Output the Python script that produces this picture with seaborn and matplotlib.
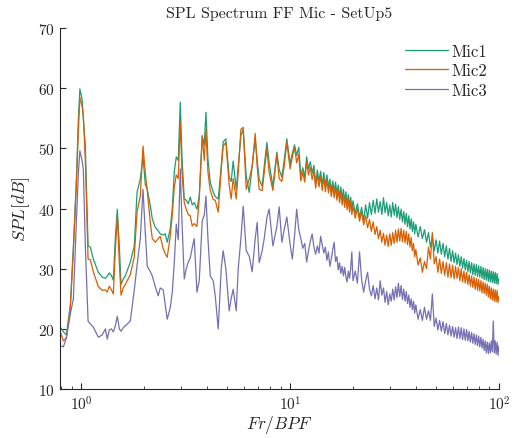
import numpy as np
import pandas as pd
import matplotlib
matplotlib.use("Agg")
import matplotlib.pyplot as plt
import seaborn as sns

# ---------------- data ----------------
mics = ["Mic1", "Mic2", "Mic3"]
colors = ["#1b9e77", "#d95f02", "#7570b3"]

freq_low = [0.793, 0.820, 0.848, 0.886, 0.916, 0.947, 0.968, 0.984, 1.008, 1.022,
            1.045, 1.077, 1.104, 1.141, 1.206, 1.260, 1.303, 1.331, 1.361, 1.392,
            1.423, 1.454, 1.487, 1.520, 1.549, 1.588, 1.624, 1.716, 1.793, 1.848,
            1.916, 1.974, 2.024, 2.069, 2.139, 2.187, 2.260, 2.335, 2.387, 2.467,
            2.522, 2.578, 2.665, 2.726, 2.787, 2.849, 2.912, 2.977, 3.033, 3.111,
            3.180, 3.251, 3.324, 3.397, 3.473, 3.578, 3.670, 3.794, 3.878, 3.952,
            4.040, 4.144, 4.283, 4.378, 4.525, 4.677, 4.779, 4.923, 5.106, 5.219,
            5.336, 5.518, 5.641, 5.811, 5.960, 6.161, 6.368, 6.581, 6.803, 6.954,
            7.108, 7.348, 7.513, 7.740, 7.938, 8.269, 8.640, 8.862, 9.130, 9.365,
            9.643]

mic1_low = [20.3, 19.5, 19.0, 24.0, 33.8, 45.0, 55.0, 59.9, 58.2, 55.0,
            50.4, 33.8, 33.6, 31.6, 29.4, 28.6, 28.4, 28.8, 29.3, 28.9,
            28.1, 35.0, 39.9, 33.8, 27.4, 28.3, 28.8, 31.1, 33.8, 42.7,
            44.9, 48.7, 44.0, 43.2, 40.5, 38.3, 36.9, 36.3, 35.8, 35.6,
            35.8, 34.4, 36.6, 40.0, 46.1, 48.6, 48.0, 57.7, 48.7, 41.6,
            41.4, 40.8, 41.9, 40.6, 41.0, 39.9, 42.1, 52.1, 50.5, 56.0,
            48.2, 44.4, 42.7, 42.0, 41.6, 47.0, 51.1, 51.6, 45.2, 44.5,
            47.9, 43.2, 47.0, 52.1, 53.2, 45.4, 42.7, 47.0, 51.6, 48.0,
            44.9, 43.7, 47.0, 51.0, 47.5, 43.7, 49.4, 46.5, 45.2, 48.0,
            51.6]
mic2_low = [19.5, 18.0, 18.5, 23.5, 33.0, 44.0, 53.0, 58.5, 57.0, 55.5,
            48.0, 31.6, 31.5, 29.5, 27.0, 26.4, 26.5, 26.1, 27.1, 26.5,
            25.8, 33.0, 38.8, 31.0, 25.6, 26.8, 27.4, 29.0, 32.0, 39.4,
            42.1, 50.4, 46.0, 43.0, 37.7, 35.0, 34.4, 35.0, 35.4, 33.3,
            32.5, 31.9, 35.4, 39.0, 43.5, 45.6, 45.0, 54.5, 46.0, 41.0,
            39.9, 39.0, 38.8, 37.1, 37.5, 37.0, 41.6, 52.1, 48.0, 53.2,
            46.0, 43.0, 41.5, 41.4, 39.4, 46.5, 50.4, 51.0, 44.0, 41.6,
            45.0, 41.6, 46.0, 53.2, 53.5, 43.2, 44.9, 47.0, 52.5, 47.0,
            43.2, 43.0, 46.0, 50.0, 46.0, 43.0, 49.0, 45.0, 44.5, 47.0,
            51.0]
mic3_low = [17.2, 17.0, 18.5, 22.5, 25.0, 38.0, 46.0, 49.6, 48.0, 46.5,
            33.8, 21.3, 20.8, 20.3, 18.6, 19.0, 20.0, 18.3, 19.8, 20.0,
            19.5, 20.5, 22.1, 20.0, 19.6, 20.2, 20.5, 21.3, 26.5, 30.5,
            35.0, 43.2, 36.0, 30.4, 29.5, 28.8, 27.0, 25.5, 26.8, 26.5,
            24.0, 21.6, 23.5, 26.1, 31.0, 37.4, 34.8, 46.6, 38.0, 28.3,
            30.0, 31.1, 31.8, 33.5, 35.0, 26.1, 28.0, 38.0, 38.9, 42.1,
            35.0, 28.8, 28.0, 25.5, 20.0, 30.0, 33.0, 30.0, 23.0, 25.0,
            26.6, 23.0, 30.0, 35.0, 40.4, 33.0, 32.1, 29.5, 35.0, 37.7,
            31.0, 33.0, 35.0, 38.5, 39.9, 33.8, 37.0, 40.3, 34.4, 36.5,
            38.6]

freq_high = [10.0, 10.25, 10.5, 10.75, 11.0, 11.25, 11.5, 11.75, 12.0, 12.25,
             12.5, 12.75, 13.0, 13.25, 13.5, 13.75, 14.0, 14.25, 14.5, 14.75,
             15.0, 15.25, 15.5, 15.75, 16.0, 16.25, 16.5, 16.75, 17.0, 17.25,
             17.5, 17.75, 18.0, 18.25, 18.5, 18.75, 19.0, 19.25, 19.5, 19.75,
             20.0, 20.5, 21.0, 21.5, 22.0, 22.5, 23.0, 23.5, 24.0, 24.5,
             25.0, 25.5, 26.0, 26.5, 27.0, 27.5, 28.0, 28.5, 29.0, 29.5,
             30.0, 30.5, 31.0, 31.5, 32.0, 32.5, 33.0, 33.5, 34.0, 34.5,
             35.0, 35.5, 36.0, 36.5, 37.0, 37.5, 38.0, 38.5, 39.0, 39.5,
             40, 41, 42, 43, 44, 45, 46, 47, 48, 49,
             50, 51, 52, 53, 54, 55, 56, 57, 58, 59,
             60, 61, 62, 63, 64, 65, 66, 67, 68, 69,
             70, 71, 72, 73, 74, 75, 76, 77, 78, 79,
             80, 81, 82, 83, 84, 85, 86, 87, 88, 89,
             90, 91, 92, 93, 94, 95, 96, 97, 98, 99,
             100]

mic1_high = [47.5, 49.2, 50.6, 48.8, 50.2, 45.4, 46.8, 45.2, 48.6, 46.6,
             47.8, 45.9, 47.2, 44.2, 46.4, 44.6, 46.2, 44.0, 46.0, 43.8,
             45.6, 43.6, 44.9, 42.9, 44.6, 42.8, 44.4, 42.4, 43.9, 41.8,
             43.6, 41.6, 43.2, 41.1, 42.8, 40.7, 42.3, 40.3, 41.9, 39.9,
             41.3, 39.2, 40.8, 38.6, 40.2, 38.0, 40.6, 38.4, 41.0, 39.0,
             41.4, 39.2, 41.6, 39.4, 41.2, 39.0, 41.8, 39.3, 41.0, 38.8,
             40.6, 38.6, 41.0, 38.9, 40.7, 38.5, 40.3, 38.2, 39.9, 37.8,
             39.5, 37.4, 39.2, 37.0, 38.8, 36.6, 38.3, 36.2, 37.8, 35.8,
             37.4, 35.3, 37.0, 35.0, 36.5, 34.4, 36.0, 33.6, 35.4, 33.0,
             34.8, 32.6, 34.6, 32.4, 34.2, 32.0, 33.8, 31.6, 33.4, 31.2,
             33.0, 31.0, 32.6, 30.7, 32.3, 30.4, 32.0, 30.1, 31.7, 29.8,
             31.4, 29.5, 31.2, 29.3, 31.0, 29.0, 30.8, 28.9, 30.7, 28.7,
             30.5, 28.6, 30.4, 28.4, 30.2, 28.2, 30.0, 28.1, 29.9, 27.9,
             29.8, 27.8, 29.6, 27.7, 29.5, 27.6, 29.4, 27.5, 29.2, 27.4,
             28.4]
mic2_high = [46.6, 48.6, 50.2, 47.6, 49.0, 44.6, 46.0, 44.4, 47.8, 45.6,
             46.9, 44.8, 46.4, 43.4, 45.5, 43.6, 45.4, 43.0, 45.2, 42.8,
             44.8, 42.6, 44.2, 42.0, 43.8, 41.8, 43.6, 41.4, 43.2, 41.0,
             42.8, 40.6, 42.4, 40.2, 42.0, 39.8, 41.6, 39.4, 41.2, 39.0,
             40.4, 38.4, 40.0, 37.9, 39.4, 37.3, 38.8, 36.8, 38.2, 36.2,
             37.8, 35.7, 37.0, 35.0, 36.4, 34.4, 35.9, 33.9, 35.6, 33.7,
             35.8, 33.9, 36.0, 34.2, 36.4, 34.4, 36.6, 34.6, 36.7, 34.5,
             36.4, 34.3, 36.2, 34.0, 35.8, 33.6, 35.2, 33.0, 34.2, 32.0,
             33.2, 30.6, 31.8, 29.4, 31.2, 30.0, 33.6, 31.6, 36.0, 30.8,
             32.0, 29.4, 31.6, 29.2, 31.2, 28.9, 31.0, 28.6, 30.8, 28.5,
             30.6, 28.3, 30.4, 28.4, 30.2, 28.0, 30.0, 27.8, 29.6, 27.6,
             29.4, 27.4, 29.0, 27.1, 28.8, 26.9, 28.6, 26.6, 28.4, 26.4,
             28.2, 26.3, 28.0, 26.0, 27.8, 25.9, 27.6, 25.6, 27.4, 25.3,
             27.1, 25.0, 26.8, 24.8, 26.6, 24.6, 26.5, 24.5, 26.4, 24.4,
             25.4]
mic3_high = [34.0, 31.6, 35.5, 39.9, 36.5, 35.0, 33.4, 34.2, 31.1, 33.0,
             34.6, 35.8, 33.6, 32.4, 33.8, 32.6, 35.4, 34.0, 32.6, 33.6,
             31.4, 32.8, 30.4, 31.6, 33.2, 34.4, 31.2, 32.0, 29.8, 31.0,
             29.2, 30.4, 28.8, 30.2, 28.6, 27.8, 29.6, 28.4, 30.0, 32.8,
             28.0, 29.6, 27.6, 32.8, 28.2, 26.1, 28.0, 29.4, 26.6, 25.5,
             27.2, 25.0, 26.8, 24.8, 28.0, 25.6, 26.8, 24.4, 26.2, 24.0,
             25.8, 24.6, 26.6, 24.8, 27.0, 25.2, 27.6, 25.4, 27.2, 24.9,
             26.6, 24.6, 26.2, 24.2, 25.6, 23.6, 25.0, 23.2, 24.6, 22.6,
             24.0, 21.6, 23.2, 21.4, 23.6, 21.6, 23.0, 21.4, 25.8, 20.4,
             21.8, 19.8, 21.4, 19.6, 21.2, 19.2, 20.9, 19.0, 20.6, 18.8,
             20.4, 18.6, 20.2, 18.4, 20.3, 18.4, 20.2, 18.2, 20.0, 18.1,
             19.9, 18.0, 19.6, 17.8, 19.4, 17.6, 19.2, 17.4, 19.0, 17.2,
             18.8, 17.0, 18.6, 16.8, 18.3, 16.4, 18.0, 16.0, 17.8, 15.9,
             17.7, 16.0, 18.0, 16.2, 21.3, 16.0, 18.0, 15.8, 17.8, 15.6,
             17.2]

# ---------------- build long-form table ----------------
freq = freq_low + freq_high
series = {"Mic1": mic1_low + mic1_high,
          "Mic2": mic2_low + mic2_high,
          "Mic3": mic3_low + mic3_high}
rows = []
for m in mics:
    for f, v in zip(freq, series[m]):
        rows.append((m, f, v))
df = pd.DataFrame(rows, columns=["mic", "fr", "spl"])

# ---------------- style ----------------
sns.set_style("ticks")
plt.rcParams["font.family"] = "serif"
plt.rcParams["font.serif"] = ["cmr10"]
plt.rcParams["mathtext.fontset"] = "cm"
plt.rcParams["axes.unicode_minus"] = False
plt.rcParams["axes.formatter.use_mathtext"] = True

fig = plt.figure(figsize=(5.17, 4.39), dpi=100)
ax = fig.add_axes([0.116, 0.1116, 0.849, 0.822])

sns.lineplot(data=df, x="fr", y="spl", hue="mic", hue_order=mics,
             palette=colors, estimator=None, sort=True,
             linewidth=0.9, ax=ax)

ax.set_xscale("log")
ax.set_xlim(0.79, 100)
ax.set_ylim(10, 70)
ax.set_yticks([10, 20, 30, 40, 50, 60, 70])

for s in ["top", "right"]:
    ax.spines[s].set_visible(False)
for s in ["left", "bottom"]:
    ax.spines[s].set_color("#262626")
    ax.spines[s].set_linewidth(0.8)

ax.tick_params(axis="both", which="major", direction="in", length=4,
               width=0.8, color="#262626", labelsize=11, labelcolor="#262626")
ax.tick_params(axis="x", which="minor", direction="in", length=2.5,
               width=0.6, color="#262626")
ax.tick_params(axis="x", which="major", pad=4)
ax.tick_params(axis="y", which="major", pad=4)

ax.set_title("SPL Spectrum FF Mic - SetUp5", fontsize=11.5, pad=8)
ax.set_xlabel(r"$Fr/BPF$", fontsize=12.5, labelpad=0)
ax.set_ylabel(r"$SPL[dB]$", fontsize=12.5, labelpad=4)

handles, labels = ax.get_legend_handles_labels()
ax.legend(handles, labels, loc="upper right", frameon=False, fontsize=12,
          handlelength=2.6, handletextpad=0.2, labelspacing=0.25,
          borderaxespad=0.3, bbox_to_anchor=(1.0, 0.99))

fig.savefig("out.png", dpi=100)
